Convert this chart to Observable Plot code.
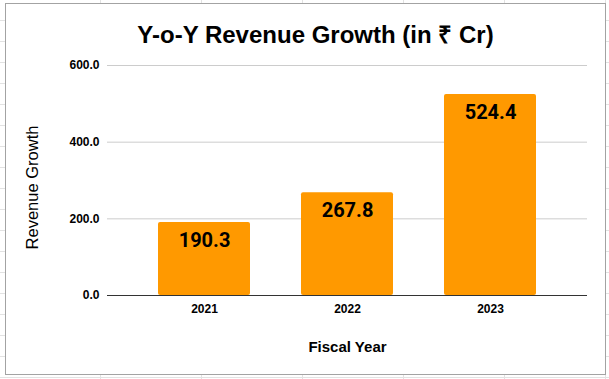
<!DOCTYPE html>
<html>
<head>
<meta charset="utf-8">
<script src="https://cdn.jsdelivr.net/npm/d3@7"></script>
<script src="https://cdn.jsdelivr.net/npm/@observablehq/plot@0.6"></script>
<style>
  html, body { margin: 0; padding: 0; }
  body {
    width: 609px; height: 379px; position: relative; overflow: hidden;
    background-color: #fff;
    background-image:
      repeating-linear-gradient(to bottom, transparent 0 20px, #e2e2e2 20px 21px),
      repeating-linear-gradient(to right, transparent 0 100px, #e2e2e2 100px 101px);
  }
  #box {
    position: absolute; left: 5px; top: 3px; width: 599px; height: 370px;
    background: #fff; border: 1px solid #a3a3a3;
  }
  #title {
    position: absolute; left: 11px; top: 17px; width: 609px; text-align: center;
    font-family: "Liberation Sans", Arial, sans-serif; font-weight: bold; font-size: 24px; color: #000;
  }
  #chart { position: absolute; left: 0; top: 50px; }
</style>
</head>
<body>
<div id="box"></div>
<div id="title">Y-o-Y Revenue Growth (in ₹ Cr)</div>
<div id="chart"></div>
<script>
const years = ["2021", "2022", "2023"];
const revenue = [190.3, 267.8, 524.4];
const yTicks = [0, 200, 400, 600];
const xTitle = "Fiscal Year";
const yTitle = "Revenue Growth";

const data = years.map((y, i) => ({year: y, value: revenue[i]}));

const chart = Plot.plot({
  width: 609,
  height: 320,
  marginLeft: 107,
  marginRight: 22,
  marginTop: 15,
  marginBottom: 75,
  style: {fontFamily: "'Liberation Sans', Arial, sans-serif", fontSize: "12px", color: "#000", background: "transparent"},
  x: {domain: years, paddingInner: 0.354, paddingOuter: 0.344, label: null},
  y: {domain: [0, 600], label: null},
  marks: [
    Plot.ruleY(yTicks.filter(d => d > 0), {stroke: "#cccccc", strokeWidth: 1, strokeOpacity: 1}),
    Plot.barY(data, {x: "year", y: "value", fill: "#ff9900", rx: 2}),
    Plot.ruleY([0], {stroke: "#333333", strokeWidth: 1}),
    Plot.text(data, {x: "year", y: "value", text: d => d.value.toFixed(1), lineAnchor: "top", dy: 10,
      fontFamily: "Roboto, sans-serif", fontWeight: "bold", fontSize: 20, fill: "#000"}),
    Plot.axisY(yTicks, {tickSize: 0, tickPadding: 8, tickFormat: d => d.toFixed(1), fontWeight: "bold", fontSize: 12, label: null}),
    Plot.axisX({tickSize: 0, tickPadding: 9, fontWeight: "bold", fontSize: 12, label: null}),
    Plot.text([xTitle], {frameAnchor: "bottom", dy: 52, lineAnchor: "middle", fontWeight: "bold", fontSize: 15, fill: "#000"}),
    Plot.text([yTitle], {frameAnchor: "left", dx: -75, dy: 7, rotate: -90, textAnchor: "middle", lineAnchor: "middle", fontSize: 16.5, fill: "#000"})
  ]
});
document.getElementById("chart").appendChild(chart);
</script>
</body>
</html>
